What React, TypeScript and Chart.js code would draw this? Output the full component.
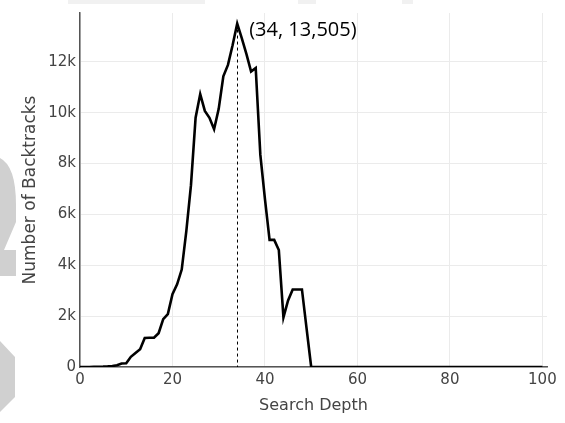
import React, { useEffect, useRef } from "react";
import { Chart, registerables } from "chart.js";

Chart.register(...registerables);

const depths = [
  0, 1, 2, 3, 4, 5, 6, 7, 8, 9, 10, 11, 12, 13, 14, 15, 16, 17, 18, 19, 20,
  21, 22, 23, 24, 25, 26, 27, 28, 29, 30, 31, 32, 33, 34, 35, 36, 37, 38, 39, 40,
  41, 42, 43, 44, 45, 46, 47, 48, 49, 50, 51, 52, 53, 54, 55, 56, 57, 58, 59, 60,
  61, 62, 63, 64, 65, 66, 67, 68, 69, 70, 71, 72, 73, 74, 75, 76, 77, 78, 79, 80,
  81, 82, 83, 84, 85, 86, 87, 88, 89, 90, 91, 92, 93, 94, 95, 96, 97, 98, 99, 100,
];

const backtracks = [
  0, 0, 0, 5, 10, 15, 25, 40, 70, 140, 150,
  400, 550, 700, 1140, 1150, 1150, 1330, 1880, 2080, 2860,
  3250, 3830, 5350, 7150, 9800, 10730, 10070, 9800, 9350, 10150,
  11430, 11880, 12650, 13505, 12920, 12300, 11620, 11760, 8350, 6600,
  5000, 5000, 4600, 1950, 2620, 3050, 3050, 3050, 1520, 0,
  0, 0, 0, 0, 0, 0, 0, 0, 0, 0,
  0, 0, 0, 0, 0, 0, 0, 0, 0, 0,
  0, 0, 0, 0, 0, 0, 0, 0, 0, 0,
  0, 0, 0, 0, 0, 0, 0, 0, 0, 0,
  0, 0, 0, 0, 0, 0, 0, 0, 0, 0,
];

const xTickValues = [0, 20, 40, 60, 80, 100];
const yTickValues = [0, 2000, 4000, 6000, 8000, 10000, 12000];
const yTickLabels = ["0", "2k", "4k", "6k", "8k", "10k", "12k"];

const peakDepth = 34;
const peakValue = 13505;
const peakLabel = "(34, 13,505)";

const xTitle = "Search Depth";
const yTitle = "Number of Backtracks";

const AXIS_FONT = "'DejaVu Sans', Verdana, sans-serif";
const TEXT_COLOR = "#444444";

const watermarkPlugin = {
  id: "watermark",
  beforeDraw(chart: any) {
    const ctx = chart.ctx;
    ctx.save();
    ctx.fillStyle = "#d0d0d0";
    ctx.beginPath();
    ctx.moveTo(0, 158);
    ctx.quadraticCurveTo(16, 166, 16, 205);
    ctx.lineTo(16, 222);
    ctx.lineTo(4, 250);
    ctx.lineTo(16, 250);
    ctx.lineTo(16, 276);
    ctx.lineTo(0, 276);
    ctx.closePath();
    ctx.fill();
    ctx.beginPath();
    ctx.moveTo(0, 341);
    ctx.lineTo(15, 357);
    ctx.lineTo(15, 397);
    ctx.lineTo(0, 412);
    ctx.closePath();
    ctx.fill();
    ctx.fillStyle = "#f1f1f1";
    ctx.fillRect(68, 0, 137, 4);
    ctx.fillRect(298, 0, 18, 4);
    ctx.fillRect(402, 0, 11, 4);
    ctx.restore();
  },
};

const peakPlugin = {
  id: "peakMarker",
  beforeDatasetsDraw(chart: any) {
    const { ctx, scales } = chart;
    const x = scales.x.getPixelForValue(peakDepth);
    const yTop = scales.y.getPixelForValue(peakValue);
    const yBottom = scales.y.getPixelForValue(0);
    ctx.save();
    ctx.strokeStyle = "#000000";
    ctx.lineWidth = 1;
    ctx.setLineDash([3, 3]);
    ctx.beginPath();
    ctx.moveTo(Math.round(x) + 0.5, yTop);
    ctx.lineTo(Math.round(x) + 0.5, yBottom);
    ctx.stroke();
    ctx.restore();
  },
  afterDatasetsDraw(chart: any) {
    const { ctx, scales } = chart;
    const x = scales.x.getPixelForValue(peakDepth);
    const y = scales.y.getPixelForValue(peakValue);
    ctx.save();
    ctx.fillStyle = "#000000";
    ctx.font = "20px 'Open Sans', sans-serif";
    ctx.textAlign = "left";
    ctx.textBaseline = "middle";
    ctx.fillText(peakLabel, x + 12, y + 7);
    ctx.restore();
  },
};

export default function App() {
  const canvasRef = useRef<HTMLCanvasElement | null>(null);

  useEffect(() => {
    const canvas = canvasRef.current;
    if (!canvas) return;
    const points = depths.map((d, i) => ({ x: d, y: backtracks[i] }));
    const chart = new Chart(canvas, {
      type: "line",
      data: {
        datasets: [
          {
            data: points,
            borderColor: "#000000",
            borderWidth: 2.6,
            pointRadius: 0,
            tension: 0,
            fill: false,
          },
        ],
      },
      options: {
        animation: false,
        responsive: false,
        devicePixelRatio: 1,
        layout: { padding: { left: 0, right: 18, top: 9, bottom: 0 } },
        plugins: {
          legend: { display: false },
          tooltip: { enabled: false },
        },
        scales: {
          x: {
            type: "linear",
            min: 0,
            max: 101,
            afterBuildTicks: (s: any) => {
              s.ticks = xTickValues.map((v) => ({ value: v }));
            },
            afterFit: (s: any) => {
              s.height = 56;
            },
            grid: { color: "#ebebeb", lineWidth: 1, drawTicks: false },
            border: { color: "#555555", width: 1.5 },
            ticks: {
              padding: 4,
              color: TEXT_COLOR,
              font: { family: AXIS_FONT, size: 15 },
              maxRotation: 0,
              autoSkip: false,
              callback: (v: any) => String(v),
            },
            title: {
              display: true,
              text: xTitle,
              color: TEXT_COLOR,
              font: { family: AXIS_FONT, size: 16 },
              padding: { top: 0, bottom: 8 },
            },
          },
          y: {
            type: "linear",
            min: 0,
            max: 13920,
            afterBuildTicks: (s: any) => {
              s.ticks = yTickValues.map((v) => ({ value: v }));
            },
            afterFit: (s: any) => {
              s.width = 80;
            },
            grid: { color: "#ebebeb", lineWidth: 1, drawTicks: false },
            border: { color: "#555555", width: 1.5 },
            ticks: {
              padding: 4,
              color: TEXT_COLOR,
              font: { family: AXIS_FONT, size: 15 },
              autoSkip: false,
              callback: (v: any) => {
                const i = yTickValues.indexOf(Number(v));
                return i >= 0 ? yTickLabels[i] : "";
              },
            },
            title: {
              display: true,
              text: yTitle,
              color: TEXT_COLOR,
              font: { family: AXIS_FONT, size: 17 },
              padding: { top: 20, bottom: 0 },
            },
          },
        },
      },
      plugins: [watermarkPlugin, peakPlugin],
    } as any);
    return () => chart.destroy();
  }, []);

  return (
    <div style={{ position: "absolute", left: 0, top: 0, width: 565, height: 423, background: "#ffffff" }}>
      <canvas ref={canvasRef} width={565} height={423} style={{ display: "block", width: 565, height: 423 }} />
    </div>
  );
}
